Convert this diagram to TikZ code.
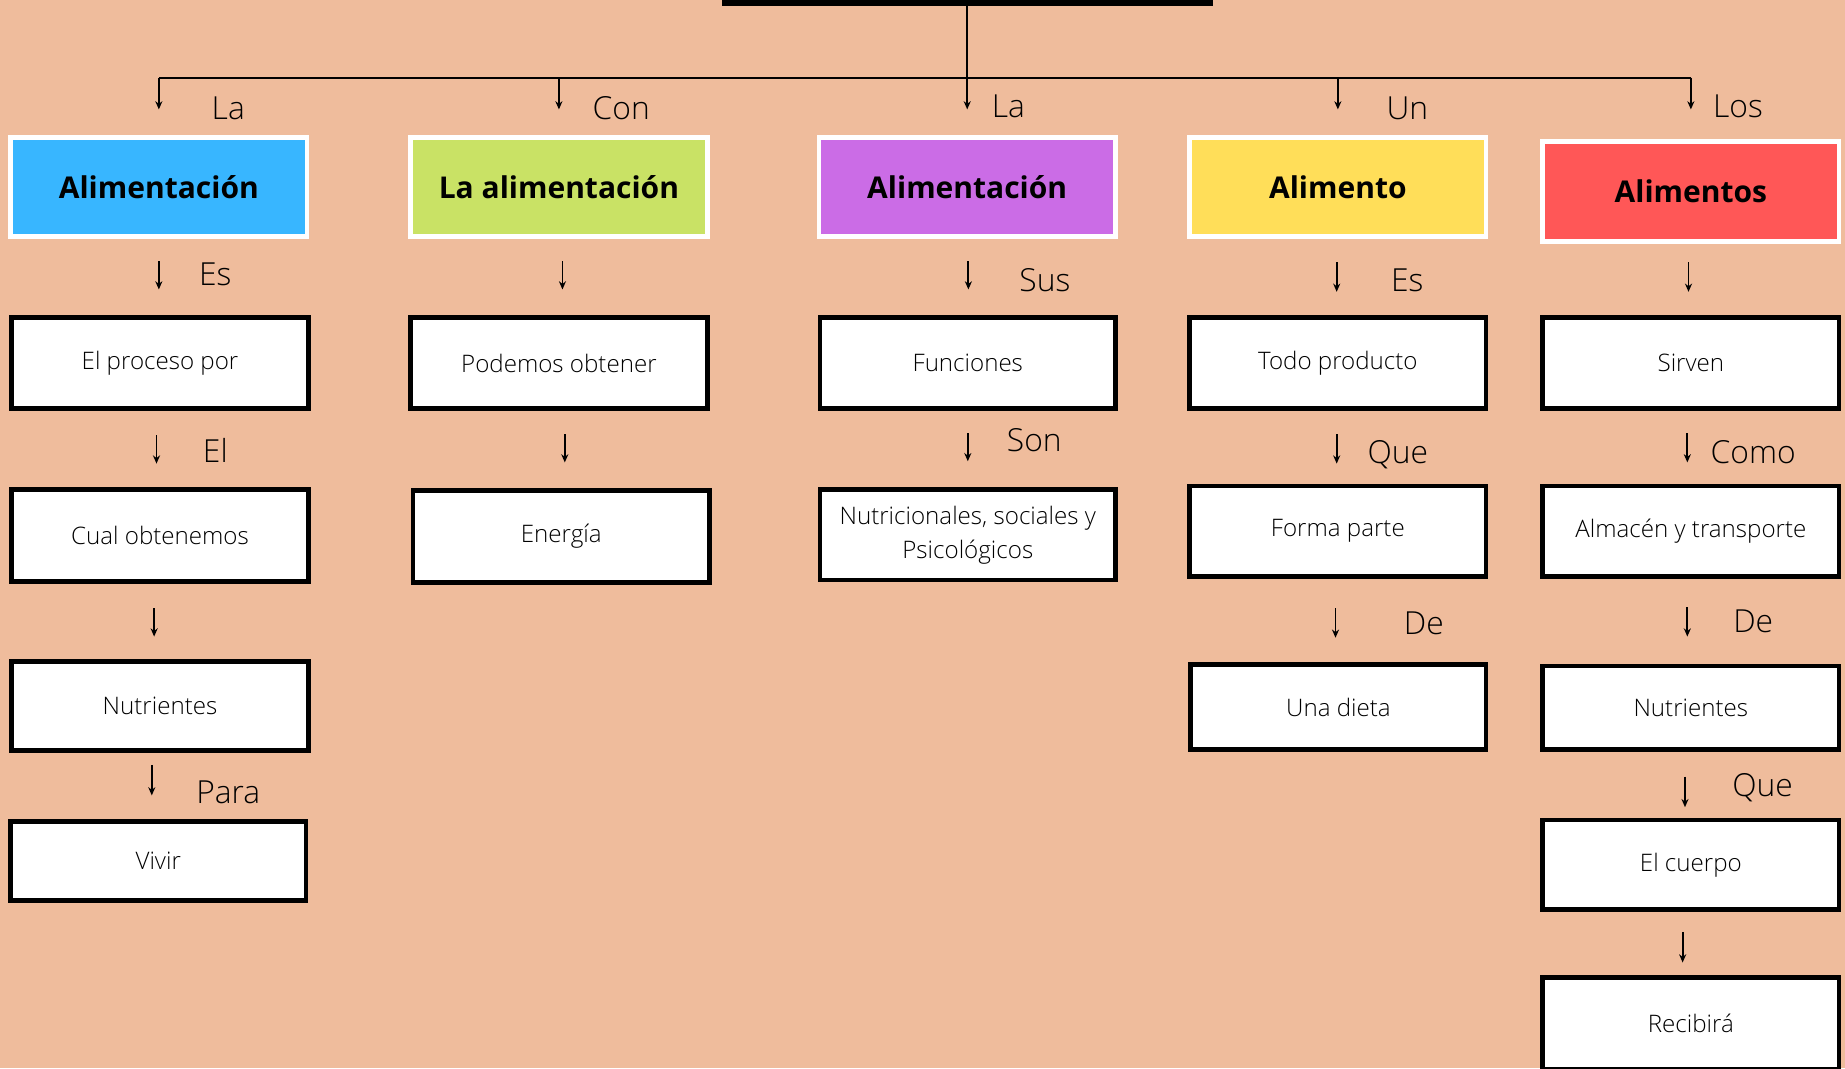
\documentclass[tikz,border=0pt]{standalone}
\usepackage{fontspec}
\setmainfont{Open Sans}
\newfontfamily\lightfont{Open Sans Light}
\usetikzlibrary{arrows.meta}
\definecolor{bg}{HTML}{EFBC9C}
\definecolor{cblue}{HTML}{38B6FF}
\definecolor{cgreen}{HTML}{C9E265}
\definecolor{cpurple}{HTML}{CB6CE6}
\definecolor{cyellow}{HTML}{FFDE59}
\definecolor{cred}{HTML}{FF5757}
\begin{document}
\begin{tikzpicture}[x=1pt,y=-1pt,
  hdr/.style={draw=white, line width=4pt, minimum width=252pt, minimum height=84pt, inner sep=0pt,
    font=\fontsize{25.5}{30}\selectfont\bfseries},
  box/.style={draw=black, fill=white, line width=4pt, minimum width=252pt, minimum height=77pt, inner sep=0pt,
    align=center, font=\lightfont\fontsize{20.5}{29}\selectfont, text=black},
  lbl/.style={font=\lightfont\fontsize{27}{30}\selectfont, text=black, inner sep=0pt},
  arr/.style={-{Stealth[length=7pt,width=6pt]}, line width=1.6pt},
  bus/.style={line width=1.6pt}]
\useasboundingbox (0,0) rectangle (1568,908);
\clip (0,0) rectangle (1568,908);
\fill[bg] (0,0) rectangle (1568,908);

% title bar
\node[draw=black, line width=5pt, minimum width=412pt, minimum height=60pt] (title) at (822.5,-27.5) {};

% headers
\node[hdr, fill=cblue] (h1) at (135,159) {Alimentación};
\node[hdr, fill=cgreen] (h2) at (475,159) {La alimentación};
\node[hdr, fill=cpurple] (h3) at (822,159) {Alimentación};
\node[hdr, fill=cyellow] (h4) at (1137,159) {Alimento};
\node[hdr, fill=cred, minimum height=85pt] (h5) at (1437,162.5) {Alimentos};

% bus
\coordinate (bus1) at (h1.north |- 0,66);
\coordinate (bus2) at (h2.north |- 0,66);
\coordinate (bus3) at (h3.north |- 0,66);
\coordinate (bus4) at (h4.north |- 0,66);
\coordinate (bus5) at (h5.north |- 0,66);
\draw[bus] (title.south -| bus3) -- (bus3);
\draw[bus] (bus1) -- (bus5);
\foreach \i in {1,2,3,4} {\draw[arr, shorten >=22pt] (bus\i) -- (h\i.north);}
\draw[arr, shorten >=25pt] (bus5) -- (h5.north);

\node[lbl] at (194,92) {La};
\node[lbl] at (528,92) {Con};
\node[lbl] at (857,90) {La};
\node[lbl] at (1196,92) {Un};
\node[lbl] at (1477,90) {Los};

% column 1
\node[box] (b11) at (136,308.5) {El proceso por};
\node[box, minimum height=78pt] (b12) at (136,455) {Cual obtenemos};
\node[box, minimum height=76pt] (b13) at (136,600) {Nutrientes};
\node[box, minimum height=67pt, minimum width=251pt] (b14) at (134.5,731.5) {Vivir};

% column 2
\node[box] (b21) at (475,308.5) {Podemos obtener};
\node[box, minimum height=78pt] (b22) at (477,456) {Energía};

% column 3
\node[box, minimum width=251pt] (b31) at (822.5,308.5) {Funciones};
\node[box, minimum width=251pt] (b32) at (822.5,454.5) {Nutricionales, sociales y\\Psicológicos};

% column 4
\node[box] (b41) at (1137,308.5) {Todo producto};
\node[box] (b42) at (1137,451.5) {Forma parte};
\node[box, minimum height=72pt, minimum width=251pt] (b43) at (1137.5,601) {Una dieta};

% column 5
\node[box] (b51) at (1437,308.5) {Sirven};
\node[box] (b52) at (1437,451.5) {Almacén y transporte};
\node[box, minimum height=71pt] (b53) at (1437,601.5) {Nutrientes};
\node[box, minimum height=76pt] (b54) at (1437,735) {El cuerpo};
\node[box, minimum height=78pt] (b55) at (1437,870) {Recibirá};

% connectors
\draw[arr, shorten <=19pt, shorten >=22pt] (h1.south) -- (h1.south |- b11.north);
\draw[arr, shorten <=21pt, shorten >=20pt] ([xshift=-3pt]b11.south) -- ([xshift=-3pt]b11.south |- b12.north);
\draw[arr, shorten <=21pt, shorten >=19pt] ([xshift=-5pt]b12.south) -- ([xshift=-5pt]b12.south |- b13.north);
\draw[arr, shorten <=10pt, shorten >=20pt] ([xshift=-7pt]b13.south) -- ([xshift=-7pt]b13.south |- b14.north);

\draw[arr, shorten <=19pt, shorten >=22pt] ([xshift=3pt]h2.south) -- ([xshift=3pt]h2.south |- b21.north);
\draw[arr, shorten <=20pt, shorten >=22pt] ([xshift=5pt]b21.south) -- ([xshift=5pt]b21.south |- b22.north);

\draw[arr, shorten <=19pt, shorten >=22pt] ([xshift=1pt]h3.south) -- ([xshift=1pt]h3.south |- b31.north);
\draw[arr, shorten <=19pt, shorten >=22pt] (b31.south) -- (b31.south |- b32.north);

\draw[arr, shorten <=20pt, shorten >=20pt] ([xshift=-1pt]h4.south) -- ([xshift=-1pt]h4.south |- b41.north);
\draw[arr, shorten <=20pt, shorten >=17pt] ([xshift=-1pt]b41.south) -- ([xshift=-1pt]b41.south |- b42.north);
\draw[arr, shorten <=25pt, shorten >=21pt] ([xshift=-2pt]b42.south) -- ([xshift=-2pt]b42.south |- b43.north);

\draw[arr, shorten <=16pt, shorten >=20pt] ([xshift=-2pt]h5.south) -- ([xshift=-2pt]h5.south |- b51.north);
\draw[arr, shorten <=19pt, shorten >=18pt] ([xshift=-3pt]b51.south) -- ([xshift=-3pt]b51.south |- b52.north);
\draw[arr, shorten <=24pt, shorten >=23pt] ([xshift=-3pt]b52.south) -- ([xshift=-3pt]b52.south |- b53.north);
\draw[arr, shorten <=21pt, shorten >=9pt] ([xshift=-5pt]b53.south) -- ([xshift=-5pt]b53.south |- b54.north);
\draw[arr, shorten <=17pt, shorten >=11pt] ([xshift=-7pt]b54.south) -- ([xshift=-7pt]b54.south |- b55.north);

% connector labels
\node[lbl] at (183,233) {Es};
\node[lbl] at (183,383) {El};
\node[lbl] at (194,673) {Para};
\node[lbl] at (888,238) {Sus};
\node[lbl] at (879,374) {Son};
\node[lbl] at (1196,238) {Es};
\node[lbl] at (1188,386) {Que};
\node[lbl] at (1210,530) {De};
\node[lbl] at (1490,384) {Como};
\node[lbl] at (1490,528) {De};
\node[lbl] at (1498,669) {Que};
\end{tikzpicture}
\end{document}
